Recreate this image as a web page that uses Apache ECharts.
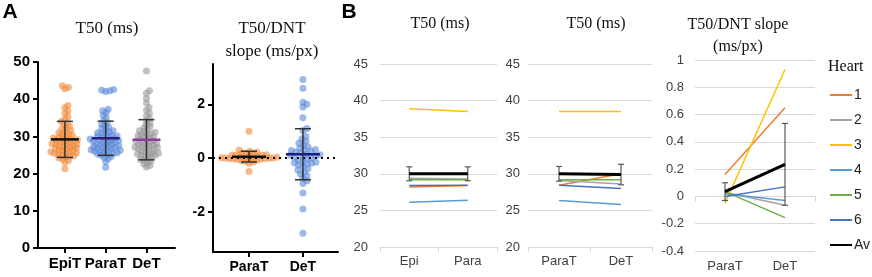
<!DOCTYPE html>
<html>
<head>
<meta charset="utf-8">
<script src="https://cdn.jsdelivr.net/npm/echarts@6.0.0/dist/echarts.min.js"></script>
<style>
	html, body { margin: 0; padding: 0; background: #fff; }
	#main { width: 872px; height: 277px; }
</style>
</head>
<body>
<div id="main"></div>
<script>
// panel A, left: T50 (ms) per region
var groupsA = ['EpiT', 'ParaT', 'DeT'];
var epiT = [43.6, 43.2, 42.8, 38.3, 37.7, 36.8, 36.2, 35.3, 34.6, 34.0, 33.6, 33.2, 32.7, 32.3, 32.0, 31.6, 31.3, 31.0, 30.8, 30.5,
	30.2, 30.0, 29.8, 29.6, 29.4, 29.3, 29.1, 28.9, 28.7, 28.6, 28.4, 28.2, 28.0, 27.9, 27.7, 27.5, 27.3, 27.2, 27.0, 26.8,
	26.6, 26.4, 26.3, 26.1, 25.9, 25.7, 25.6, 25.4, 25.2, 25.0, 24.8, 24.7, 24.5, 24.2, 23.9, 23.5, 23.0, 21.3, 29.0, 27.8, 26.9, 25.5];
var paraT = [42.6, 42.4, 42.3, 42.1, 37.3, 36.9, 36.4, 35.7, 35.0, 34.2, 33.7, 33.3, 32.8, 32.4, 32.1, 31.8, 31.5, 31.2, 30.9, 30.7,
	30.4, 30.1, 29.9, 29.7, 29.5, 29.3, 29.1, 28.9, 28.7, 28.5, 28.3, 28.1, 27.9, 27.7, 27.5, 27.3, 27.1, 26.9, 26.7, 26.5,
	26.3, 26.1, 25.9, 25.7, 25.5, 25.3, 25.1, 24.9, 24.6, 24.3, 24.0, 23.2, 21.7, 30.0, 29.2, 28.4, 27.6, 26.8, 26.0, 25.6, 31.0, 28.8, 27.2, 26.4];
var deT = [47.6, 42.3, 41.6, 40.2, 39.0, 37.8, 37.0, 36.2, 35.5, 34.8, 34.2, 33.7, 33.2, 32.7, 32.3, 31.9, 31.5, 31.1, 30.8, 30.5,
	30.2, 29.9, 29.6, 29.3, 29.0, 28.8, 28.5, 28.3, 28.0, 27.8, 27.5, 27.3, 27.0, 26.8, 26.5, 26.3, 26.0, 25.8, 25.5, 25.3,
	25.0, 24.7, 24.4, 24.1, 23.8, 23.4, 23.0, 22.6, 22.2, 21.8, 29.8, 28.6, 27.6, 26.6, 25.6, 24.9, 30.6, 27.1, 31.3, 23.6, 25.1, 28.1];
var meanA = [29.2, 29.5, 29.1];
var sdA = [4.85, 4.6, 5.4];

// panel A, right: T50/DNT slope
var groupsSlope = ['ParaT', 'DeT'];
var slopeParaT = [1.0, 0.3, 0.25, 0.22, 0.2, 0.18, 0.15, 0.12, 0.1, 0.1, 0.08, 0.06, 0.05, 0.04, 0.03, 0.02, 0.01, 0.0, 0.0,
	-0.01, -0.02, -0.03, -0.04, -0.05, -0.06, -0.08, -0.1, -0.12, -0.15, -0.2, -0.5, 0.07, 0.0, -0.02, 0.04, 0.11];
var slopeDeT = [2.92, 2.6, 2.08, 2.0, 1.9, 1.5, 1.1, 1.02, 0.8, 0.72, 0.62, 0.55, 0.48, 0.42, 0.37, 0.32, 0.3, 0.26, 0.22, 0.2,
	0.16, 0.12, 0.1, 0.06, 0.03, 0.0, -0.04, -0.08, -0.12, -0.16, -0.2, -0.22, -0.26, -0.32, -0.4, -0.45, -0.52, -0.6, -0.66,
	-0.75, -0.85, -0.95, -1.3, -1.9, -2.8, 0.28, 0.08, -0.18];
var meanSlope = [0.05, 0.14];
var sdSlope = [0.2, 0.95];

// panel B: per heart
var hearts = ['1', '2', '3', '4', '5', '6'];
var catsEpiPara = ['Epi', 'Para'];
var catsParaDe = ['ParaT', 'DeT'];
var t50EpiPara = [[28.2, 28.4], [29.4, 29.3], [38.9, 38.5], [26.1, 26.4], [29.2, 29.2], [28.4, 28.45]];
var t50EpiParaAv = [30.0, 30.0];
var t50EpiParaErr = [0.95, 0.95];
var t50ParaDe = [[28.45, 30.0], [29.1, 28.6], [38.5, 38.5], [26.35, 25.8], [29.2, 29.2], [28.45, 28.0]];
var t50ParaDeAv = [30.0, 29.9];
var t50ParaDeErr = [1.0, 1.4];
var slopeParaDe = [[0.16, 0.65], [0.03, -0.065], [-0.05, 0.93], [0.02, -0.03], [0.035, -0.155], [0.0, 0.07]];
var slopeParaDeAv = [0.035, 0.235];
var slopeParaDeErr = [0.065, 0.3];

var heartColors = ['#ED7D31', '#A5A5A5', '#FFC000', '#5B9BD5', '#70AD47', '#4472C4'];
var sans = '"Liberation Sans", Arial, sans-serif';
var serif = '"Liberation Serif", "Times New Roman", serif';

var chart = echarts.init(document.getElementById('main'));

function meanSdItem(meanColors, halfMean, halfCap, barColor, barWidth) {
	return function (params, api) {
		var x = api.value(0), m = api.value(1), sd = api.value(2);
		var c = api.coord([x, m]);
		var top = api.coord([x, m + sd]);
		var bot = api.coord([x, m - sd]);
		var bar = { stroke: barColor, lineWidth: barWidth };
		return {
			type: 'group',
			children: [
				{ type: 'line', shape: { x1: c[0], y1: top[1], x2: c[0], y2: bot[1] }, style: bar },
				{ type: 'line', shape: { x1: c[0] - halfCap, y1: top[1], x2: c[0] + halfCap, y2: top[1] }, style: bar },
				{ type: 'line', shape: { x1: c[0] - halfCap, y1: bot[1], x2: c[0] + halfCap, y2: bot[1] }, style: bar },
				{ type: 'line', shape: { x1: c[0] - halfMean, y1: c[1], x2: c[0] + halfMean, y2: c[1] },
					style: { stroke: meanColors[params.dataIndex], lineWidth: 2.5 } }
			]
		};
	};
}

function errorItem(params, api) {
	var x = api.value(0), m = api.value(1), e = api.value(2);
	var top = api.coord([x, m + e]);
	var bot = api.coord([x, m - e]);
	var st = { stroke: '#595959', lineWidth: 1.2 };
	return {
		type: 'group',
		children: [
			{ type: 'line', shape: { x1: top[0], y1: top[1], x2: bot[0], y2: bot[1] }, style: st },
			{ type: 'line', shape: { x1: top[0] - 3, y1: top[1], x2: top[0] + 3, y2: top[1] }, style: st },
			{ type: 'line', shape: { x1: bot[0] - 3, y1: bot[1], x2: bot[0] + 3, y2: bot[1] }, style: st }
		]
	};
}

function toTriples(av, err) {
	return av.map(function (v, i) { return [i, v, err[i]]; });
}

function darkAxis(extra) {
	var a = {
		type: 'value',
		axisLine: { show: true, onZero: false, lineStyle: { color: '#000', width: 2 } },
		axisTick: { show: true, length: 5, lineStyle: { color: '#000', width: 2 } },
		axisLabel: { color: '#000', fontSize: 14, fontWeight: 'bold', fontFamily: sans, margin: 8 },
		splitLine: { show: false }
	};
	for (var k in extra) {
		if (typeof extra[k] === 'object' && a[k]) {
			for (var j in extra[k]) a[k][j] = extra[k][j];
		} else {
			a[k] = extra[k];
		}
	}
	return a;
}

function lightX(gridIndex, cats, margin) {
	return {
		type: 'category', gridIndex: gridIndex, data: cats, boundaryGap: true,
		axisLine: { show: true, lineStyle: { color: '#D9D9D9', width: 1 } },
		axisTick: { show: true, length: 5, lineStyle: { color: '#D9D9D9' } },
		axisLabel: { color: '#404040', fontSize: 13, fontFamily: sans, margin: margin },
		splitLine: { show: false }
	};
}

function lightY(gridIndex, min, max, interval, margin, fmt) {
	return {
		type: 'value', gridIndex: gridIndex, min: min, max: max, interval: interval,
		axisLine: { show: false }, axisTick: { show: false },
		axisLabel: { color: '#404040', fontSize: 13, fontFamily: sans, margin: margin, formatter: fmt },
		splitLine: { show: true, lineStyle: { color: '#D9D9D9', width: 1 } }
	};
}

function heartSeries(axisIndex, rows, av, err) {
	var list = [];
	rows.forEach(function (row, i) {
		list.push({
			type: 'line', name: hearts[i], xAxisIndex: axisIndex, yAxisIndex: axisIndex,
			data: row, symbol: 'none', z: 2,
			lineStyle: { color: heartColors[i], width: 1.5 },
			itemStyle: { color: heartColors[i] }
		});
	});
	list.push({
		type: 'custom', xAxisIndex: axisIndex, yAxisIndex: axisIndex,
		data: toTriples(av, err), renderItem: errorItem, z: 3
	});
	list.push({
		type: 'line', name: 'Av', xAxisIndex: axisIndex, yAxisIndex: axisIndex,
		data: av, symbol: 'none', z: 4,
		lineStyle: { color: '#000', width: 3 },
		itemStyle: { color: '#000' }
	});
	return list;
}

function text(x, y, str, font, extra) {
	var s = { text: str, x: x, y: y, font: font, fill: '#111', textAlign: 'center', textVerticalAlign: 'middle' };
	for (var k in extra) s[k] = extra[k];
	return { type: 'text', silent: true, style: s };
}

var option = {
	animation: false,
	backgroundColor: '#fff',
	grid: [
		{ left: 38, top: 62, width: 137, height: 186 },
		{ left: 213, top: 64, width: 125, height: 188 },
		{ left: 380, top: 64, width: 117, height: 183 },
		{ left: 528, top: 64, width: 124, height: 183 },
		{ left: 695, top: 60, width: 120, height: 191 }
	],
	xAxis: [
		darkAxis({
			gridIndex: 0, min: -0.66, max: 2.7,
			axisTick: { customValues: [0, 1, 2] },
			axisLabel: { customValues: [0, 1, 2], fontSize: 15, formatter: function (v) { return groupsA[Math.round(v)]; } }
		}),
		darkAxis({
			gridIndex: 1, min: -0.667, max: 1.65,
			axisTick: { customValues: [0, 1] },
			axisLabel: { customValues: [0, 1], formatter: function (v) { return groupsSlope[Math.round(v)]; } }
		}),
		lightX(2, catsEpiPara, 8),
		lightX(3, catsParaDe, 8),
		lightX(4, catsParaDe, 9)
	],
	yAxis: [
		darkAxis({ gridIndex: 0, min: 0, max: 50, interval: 10, axisLabel: { fontSize: 15 } }),
		darkAxis({
			gridIndex: 1, min: -3.5, max: 3.5,
			axisTick: { customValues: [-2, 0, 2] },
			axisLabel: { customValues: [-2, 0, 2] }
		}),
		lightY(2, 20, 45, 5, 12),
		lightY(3, 20, 45, 5, 8),
		lightY(4, -0.4, 1, 0.2, 11, function (v) { return String(Math.round(v * 10) / 10); })
	],
	legend: {
		orient: 'vertical', left: 829, top: 88, padding: 0,
		itemWidth: 22, itemHeight: 14, itemGap: 11,
		data: hearts.concat(['Av']),
		selectedMode: false,
		itemStyle: { opacity: 0 },
		textStyle: { color: '#222', fontSize: 14, fontFamily: sans, padding: [0, 0, 0, -3] }
	},
	graphic: [
		text(10, 12, 'A', 'bold 21px ' + sans, { fill: '#000' }),
		text(349, 12, 'B', 'bold 21px ' + sans, { fill: '#000' }),
		text(107, 29, 'T50 (ms)', '17px ' + serif),
		text(272, 29, 'T50/DNT', '17px ' + serif),
		text(272, 52, 'slope (ms/px)', '17px ' + serif),
		text(440, 24, 'T50 (ms)', '16px ' + serif),
		text(596, 24, 'T50 (ms)', '16px ' + serif),
		text(738, 25, 'T50/DNT slope', '16px ' + serif),
		text(738, 47, '(ms/px)', '16px ' + serif),
		text(828, 67, 'Heart', '16px ' + serif, { textAlign: 'left' })
	],
	series: [
		{ id: 'sEpi', type: 'scatter', xAxisIndex: 0, yAxisIndex: 0, data: [], symbolSize: 7,
			itemStyle: { color: '#F08A3C', opacity: 0.6 } },
		{ id: 'sPara', type: 'scatter', xAxisIndex: 0, yAxisIndex: 0, data: [], symbolSize: 7,
			itemStyle: { color: '#5B8BD9', opacity: 0.6 } },
		{ id: 'sDe', type: 'scatter', xAxisIndex: 0, yAxisIndex: 0, data: [], symbolSize: 7,
			itemStyle: { color: '#9A9A9A', opacity: 0.6 } },
		{ type: 'custom', xAxisIndex: 0, yAxisIndex: 0, z: 5,
			data: meanA.map(function (m, i) { return [i, m, sdA[i]]; }),
			renderItem: meanSdItem(['#111', '#2B1E7E', '#8E3A9E'], 14, 8, '#333', 1.5) },
		{ id: 'sSlopePara', type: 'scatter', xAxisIndex: 1, yAxisIndex: 1, data: [], symbolSize: 7,
			itemStyle: { color: '#F08A3C', opacity: 0.6 } },
		{ id: 'sSlopeDe', type: 'scatter', xAxisIndex: 1, yAxisIndex: 1, data: [], symbolSize: 7,
			itemStyle: { color: '#5B8BD9', opacity: 0.6 },
			markLine: {
				silent: true, symbol: 'none', label: { show: false },
				lineStyle: { color: '#000', type: [2, 4], width: 2 },
				data: [{ yAxis: 0 }]
			} },
		{ type: 'custom', xAxisIndex: 1, yAxisIndex: 1, z: 5,
			data: meanSlope.map(function (m, i) { return [i, m, sdSlope[i]]; }),
			renderItem: meanSdItem(['#111', '#1E1E80'], 17, 8, '#333', 1.5) }
	]
		.concat(heartSeries(2, t50EpiPara, t50EpiParaAv, t50EpiParaErr))
		.concat(heartSeries(3, t50ParaDe, t50ParaDeAv, t50ParaDeErr))
		.concat(heartSeries(4, slopeParaDe, slopeParaDeAv, slopeParaDeErr))
};

chart.setOption(option);

// beeswarm: spread points sideways so they do not pile up, using the chart's own scales
function swarm(values, center, axisIndex, diam) {
	var finder = { xAxisIndex: axisIndex, yAxisIndex: axisIndex };
	var p0 = chart.convertToPixel(finder, [0, 0]);
	var p1 = chart.convertToPixel(finder, [1, 1]);
	var kx = p1[0] - p0[0], ky = p1[1] - p0[1];
	var sorted = values.slice().sort(function (a, b) { return a - b; });
	var placed = [], res = [];
	sorted.forEach(function (v) {
		var py = v * ky;
		var off = 0;
		for (var k = 0; k < 120; k++) {
			var cand = (k % 2 === 1 ? 1 : -1) * Math.ceil(k / 2) * 0.5;
			var hit = false;
			for (var j = 0; j < placed.length; j++) {
				var dy = py - placed[j][1];
				if (Math.abs(dy) >= diam) continue;
				var dx = cand - placed[j][0];
				if (dx * dx + dy * dy < diam * diam) { hit = true; break; }
			}
			if (!hit) { off = cand; break; }
		}
		placed.push([off, py]);
		res.push([center + off / kx, v]);
	});
	return res;
}

chart.setOption({
	series: [
		{ id: 'sEpi', data: swarm(epiT, 0, 0, 3.7) },
		{ id: 'sPara', data: swarm(paraT, 1, 0, 3.7) },
		{ id: 'sDe', data: swarm(deT, 2, 0, 3.7) },
		{ id: 'sSlopePara', data: swarm(slopeParaT, 0, 1, 4) },
		{ id: 'sSlopeDe', data: swarm(slopeDeT, 1, 1, 4.5) }
	]
});
</script>
</body>
</html>
